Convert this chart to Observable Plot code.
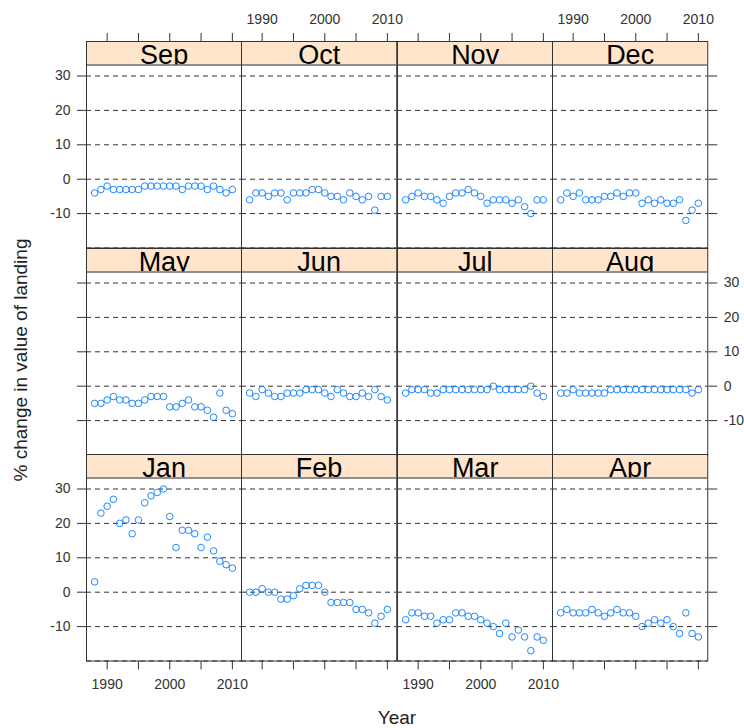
<!DOCTYPE html>
<html><head><meta charset="utf-8">
<script src="https://cdn.jsdelivr.net/npm/d3@7"></script>
<script src="https://cdn.jsdelivr.net/npm/@observablehq/plot@0.6"></script>
<style>
body{margin:0;background:#fff;}
#wrap{position:relative;width:744px;height:728px;overflow:hidden;font-family:"Liberation Sans",Arial,sans-serif;}
#wrap svg{position:absolute;}
.lab{position:absolute;color:#222;font-size:19px;white-space:nowrap;line-height:1;}
</style></head><body><div id="wrap"></div>
<script>
// ---- data ----
const years = [1988, 1989, 1990, 1991, 1992, 1993, 1994, 1995, 1996, 1997, 1998, 1999, 2000, 2001, 2002, 2003, 2004, 2005, 2006, 2007, 2008, 2009, 2010];
const jan = [3, 23, 25, 27, 20, 21, 17, 21, 26, 28, 29, 30, 22, 13, 18, 18, 17, 13, 16, 12, 9, 8, 7];
const feb = [0, 0, 1, 0, 0, -2, -2, -1, 1, 2, 2, 2, 0, -3, -3, -3, -3, -5, -5, -6, -9, -7, -5];
const mar = [-8, -6, -6, -7, -7, -9, -8, -8, -6, -6, -7, -7, -8, -9, -10, -12, -9, -13, -11, -13, -17, -13, -14];
const apr = [-6, -5, -6, -6, -6, -5, -6, -7, -6, -5, -6, -6, -7, -10, -9, -8, -9, -8, -10, -12, -6, -12, -13];
const may = [-5, -5, -4, -3, -4, -4, -5, -5, -4, -3, -3, -3, -6, -6, -5, -4, -6, -6, -7, -9, -2, -7, -8];
const jun = [-2, -3, -1, -2, -3, -3, -2, -2, -2, -1, -1, -1, -2, -3, -1, -2, -3, -3, -2, -3, -1, -3, -4];
const jul = [-2, -1, -1, -1, -2, -2, -1, -1, -1, -1, -1, -1, -1, -1, 0, -1, -1, -1, -1, -1, 0, -2, -3];
const aug = [-2, -2, -1, -2, -2, -2, -2, -2, -1, -1, -1, -1, -1, -1, -1, -1, -1, -1, -1, -1, -1, -2, -1];
const sep = [-4, -3, -2, -3, -3, -3, -3, -3, -2, -2, -2, -2, -2, -2, -3, -2, -2, -2, -3, -2, -3, -4, -3];
const oct = [-6, -4, -4, -5, -4, -4, -6, -4, -4, -4, -3, -3, -4, -5, -5, -6, -4, -5, -6, -5, -9, -5, -5];
const nov = [-6, -5, -4, -5, -5, -6, -7, -5, -4, -4, -3, -4, -5, -7, -6, -6, -6, -7, -6, -8, -10, -6, -6];
const dec = [-6, -4, -5, -4, -6, -6, -6, -5, -5, -4, -5, -4, -4, -7, -6, -7, -6, -7, -7, -6, -12, -9, -7];

const panelRows = [["Sep", "Oct", "Nov", "Dec"], ["May", "Jun", "Jul", "Aug"], ["Jan", "Feb", "Mar", "Apr"]];
const xTicks = [1990, 1995, 2000, 2005, 2010];
const yTicks = [-10, 0, 10, 20, 30];
const gridLevels = [-20, -10, 0, 10, 20, 30];
const yLabel = "% change in value of landing";
const xLabel = "Year";

const series = {Jan: jan, Feb: feb, Mar: mar, Apr: apr, May: may, Jun: jun, Jul: jul, Aug: aug, Sep: sep, Oct: oct, Nov: nov, Dec: dec};

// ---- layout ----
const colW = 155.25, rowH = 206.5, stripH = 23.5, panelH = 183;
const left0 = 86, top0 = 41;
const M = {l: 60, r: 60, t: 50, b: 50};
const X0 = 1986.7, X1 = 2011.5;
const YMIN = -20, YPANEL = 33.2;
const YTOP = YPANEL + stripH * (YPANEL - YMIN) / panelH;

const wrap = document.getElementById("wrap");

panelRows.forEach((row, r) => {
  row.forEach((m, c) => {
    const data = years.map((year, i) => ({year, value: series[m][i]}));
    const xLabOn = (r === 0 && c % 2 === 1) || (r === 2 && c % 2 === 0);
    const yLabOn = (c === 0 && r !== 1) || (c === 3 && r === 1);
    const chart = Plot.plot({
      width: colW + M.l + M.r,
      height: rowH + M.t + M.b,
      marginLeft: M.l, marginRight: M.r, marginTop: M.t, marginBottom: M.b,
      style: {background: "transparent", overflow: "visible", fontSize: "14px", fontFamily: "Liberation Sans, Arial, sans-serif", color: "#333"},
      x: {domain: [X0, X1], axis: r === 0 ? "top" : r === 2 ? "bottom" : null, ticks: xTicks,
          tickFormat: d => (xLabOn && d % 10 === 0) ? String(d) : "", tickSize: 9, tickPadding: 9, label: null},
      y: {domain: [YMIN, YTOP], axis: c === 0 ? "left" : c === 3 ? "right" : null, ticks: yTicks,
          tickFormat: d => yLabOn ? String(d) : "", tickSize: 9, tickPadding: 7, label: null},
      marks: [
        Plot.rect([m], {x1: () => X0, x2: () => X1, y1: () => YPANEL, y2: () => YTOP, fill: "#ffe5cc"}),
        Plot.text([m], {y: () => YPANEL, text: d => d, fontSize: 27, lineAnchor: "bottom", dy: -1, fill: "#000", fontFamily: "Liberation Sans, Arial, sans-serif"}),
        Plot.rect([m], {x1: () => X0, x2: () => X1, y1: () => YMIN, y2: () => YPANEL, fill: "white"}),
        Plot.ruleY(gridLevels, {stroke: "#333", strokeDasharray: "5,4", strokeWidth: 1}),
        Plot.ruleY([YPANEL], {stroke: "#222", strokeWidth: 1}),
        Plot.frame({stroke: "#333", strokeWidth: 1}),
        Plot.dot(data, {x: "year", y: "value", r: 3.3, stroke: "#1f88ff", strokeWidth: 1, fill: "none"})
      ]
    });
    chart.style.left = (left0 + c * colW - M.l) + "px";
    chart.style.top = (top0 + r * rowH - M.t) + "px";
    wrap.appendChild(chart);
  });
});

const yl = document.createElement("div");
yl.className = "lab";
yl.textContent = yLabel;
yl.style.left = "20px";
yl.style.top = "360px";
yl.style.transform = "translate(-50%,-50%) rotate(-90deg)";
wrap.appendChild(yl);

const xl = document.createElement("div");
xl.className = "lab";
xl.textContent = xLabel;
xl.style.left = "397px";
xl.style.top = "717px";
xl.style.transform = "translate(-50%,-50%)";
wrap.appendChild(xl);
</script>
</body></html>
